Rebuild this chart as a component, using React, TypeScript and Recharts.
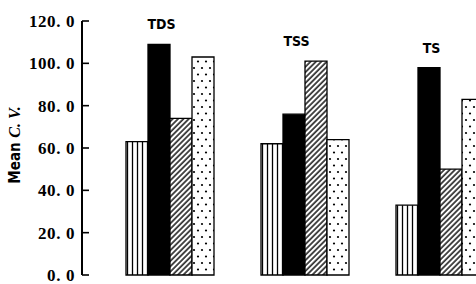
import { Bar, ComposedChart, LabelList, Line, XAxis, YAxis } from "recharts";

const categories = ["TDS", "TSS", "TS"];
const stripedValues = [63, 62, 33];
const solidValues = [109, 76, 98];
const hatchedValues = [74, 101, 50];
const dottedValues = [103, 64, 83];
const yTicks = [0, 20, 40, 60, 80, 100, 120];

const data = categories.map((name, i) => ({
  name,
  striped: stripedValues[i],
  solid: solidValues[i],
  hatched: hatchedValues[i],
  dotted: dottedValues[i],
  peak: Math.max(stripedValues[i], solidValues[i], hatchedValues[i], dottedValues[i]),
}));

const fmt = (v: number) => v.toFixed(1).replace(".", ". ");

function YTick(props: any) {
  const { x, y, payload } = props;
  return (
    <g>
      <line x1={x} x2={x + 7} y1={y} y2={y} stroke="#000" strokeWidth={1.6} />
      <text
        x={x - 7}
        y={y}
        dy={6}
        textAnchor="end"
        fontFamily="Liberation Serif"
        fontWeight="bold"
        fontSize={17}
        letterSpacing={0.6}
        fill="#000"
      >
        {fmt(payload.value)}
      </text>
    </g>
  );
}

function YTitle(props: any) {
  const vb = props.viewBox ?? { x: 0, y: 21, width: 82, height: 254 };
  const cx = vb.x + 20;
  const cy = vb.y + vb.height / 2 - 3;
  return (
    <text
      x={cx}
      y={cy}
      transform={`rotate(-90 ${cx} ${cy})`}
      textAnchor="middle"
      fill="#000"
      fontSize={15}
    >
      <tspan fontFamily="DejaVu Sans Condensed, DejaVu Sans" fontWeight="bold">
        Mean{" "}
      </tspan>
      <tspan fontFamily="Liberation Serif" fontStyle="italic" fontWeight="bold" fontSize={16}>
        C. V.
      </tspan>
    </text>
  );
}

function GroupLabel(props: any) {
  const { x, y, value } = props;
  return (
    <text
      x={x - 8}
      y={y - 20}
      dy={5}
      textAnchor="middle"
      fontFamily="DejaVu Sans Condensed, DejaVu Sans"
      fontWeight="bold"
      fontSize={14}
      fill="#000"
    >
      {value}
    </text>
  );
}

export default function App() {
  return (
    <div
      style={{
        position: "absolute",
        left: 0,
        top: 0,
        width: 476,
        height: 284,
        overflow: "hidden",
        background: "#fff",
      }}
    >
      <ComposedChart
        width={510}
        height={284}
        data={data}
        barSize={22}
        barGap={0}
        margin={{ top: 21, right: 3, bottom: 9, left: 0 }}
      >
        <defs>
          <pattern id="stripes" patternUnits="userSpaceOnUse" width={5} height={10}>
            <rect width={5} height={10} fill="#fff" />
            <line x1={2.5} x2={2.5} y1={0} y2={10} stroke="#000" strokeWidth={1.3} />
          </pattern>
          <pattern
            id="hatch"
            patternUnits="userSpaceOnUse"
            width={3.8}
            height={6}
            patternTransform="rotate(45)"
          >
            <rect width={3.8} height={6} fill="#fff" />
            <line x1={1} x2={1} y1={0} y2={6} stroke="#000" strokeWidth={1.4} />
          </pattern>
          <pattern id="dots" patternUnits="userSpaceOnUse" width={8} height={13}>
            <rect width={8} height={13} fill="#fff" />
            <circle cx={2} cy={3} r={1.1} fill="#000" />
            <circle cx={6} cy={9.5} r={1.1} fill="#000" />
          </pattern>
        </defs>
        <XAxis
          dataKey="name"
          tick={false}
          tickLine={false}
          height={0}
          padding={{ left: 20, right: 0 }}
          axisLine={{ stroke: "#000", strokeWidth: 2 }}
        />
        <YAxis
          width={82}
          domain={[0, 120]}
          ticks={yTicks}
          interval={0}
          tickSize={0}
          tickMargin={0}
          tickLine={false}
          tick={<YTick />}
          axisLine={{ stroke: "#000", strokeWidth: 2 }}
          label={<YTitle />}
        />
        <Bar dataKey="striped" fill="url(#stripes)" stroke="#000" strokeWidth={1.3} isAnimationActive={false} />
        <Bar dataKey="solid" fill="#000" stroke="#000" strokeWidth={1.3} isAnimationActive={false} />
        <Bar dataKey="hatched" fill="url(#hatch)" stroke="#000" strokeWidth={1.3} isAnimationActive={false} />
        <Bar dataKey="dotted" fill="url(#dots)" stroke="#000" strokeWidth={1.3} isAnimationActive={false} />
        <Line
          dataKey="peak"
          stroke="none"
          dot={false}
          activeDot={false}
          isAnimationActive={false}
        >
          <LabelList dataKey="name" content={<GroupLabel />} />
        </Line>
      </ComposedChart>
    </div>
  );
}
